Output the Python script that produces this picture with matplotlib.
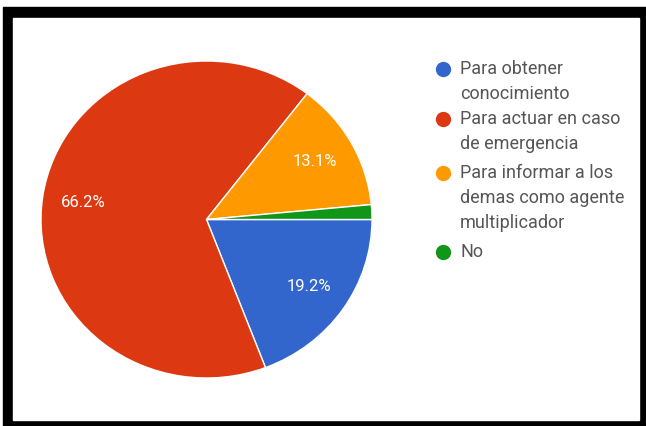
import matplotlib.pyplot as plt
from matplotlib.patches import Rectangle
from matplotlib.lines import Line2D

plt.rcParams['font.family'] = ['Roboto', 'DejaVu Sans']

# survey answers
categorias = ["Para obtener\nconocimiento",
              "Para actuar en caso\nde emergencia",
              "Para informar a los\ndemas como agente\nmultiplicador",
              "No"]
porcentajes = [19.2, 66.2, 13.1, 1.5]
colores = ["#3366CC", "#DC3912", "#FF9900", "#109618"]

W, H = 646, 426
fig = plt.figure(figsize=(W / 100, H / 100), dpi=100)

def px(x, y):
    # pixel position (from top-left) -> figure fraction
    return x / W, 1 - y / H

# black frame around the chart
fig.patches.append(Rectangle(px(3, 430), (W + 10) / W, (430 - 7) / H,
                             transform=fig.transFigure, color="black", zorder=-2))
fig.patches.append(Rectangle(px(13, 420), (639 - 13) / W, (420 - 18) / H,
                             transform=fig.transFigure, color="white", zorder=-1))

# pie area (slightly wider than tall)
ax = fig.add_axes([41 / W, (426 - 378) / H, 331 / W, 317 / H])
ax.patch.set_visible(False)

def etiqueta(p):
    return "%.1f%%" % p if p > 5 else ""

wedges, textos, autotextos = ax.pie(
    porcentajes, colors=colores, startangle=0, counterclock=False,
    autopct=etiqueta, pctdistance=0.75,
    wedgeprops=dict(edgecolor="white", linewidth=1),
    textprops=dict(color="white", fontsize=12))
ax.set_aspect("auto")
ax.set_xlim(-1, 1)
ax.set_ylim(-1, 1)

# legend on the right, one text per line so the line pitch stays at 25 px
ys = [69, 119, 173, 252]
for cat, col, y in zip(categorias, colores, ys):
    mx, my = px(443, y)
    fig.add_artist(Line2D([mx], [my], marker="o", markersize=10, color=col,
                          transform=fig.transFigure))
    for i, linea in enumerate(cat.split("\n")):
        tx, ty = px(460, y + 25 * i)
        fig.text(tx, ty, linea, va="center", ha="left", fontsize=13,
                 color="#555555")

fig.savefig("out.png", dpi=100)
